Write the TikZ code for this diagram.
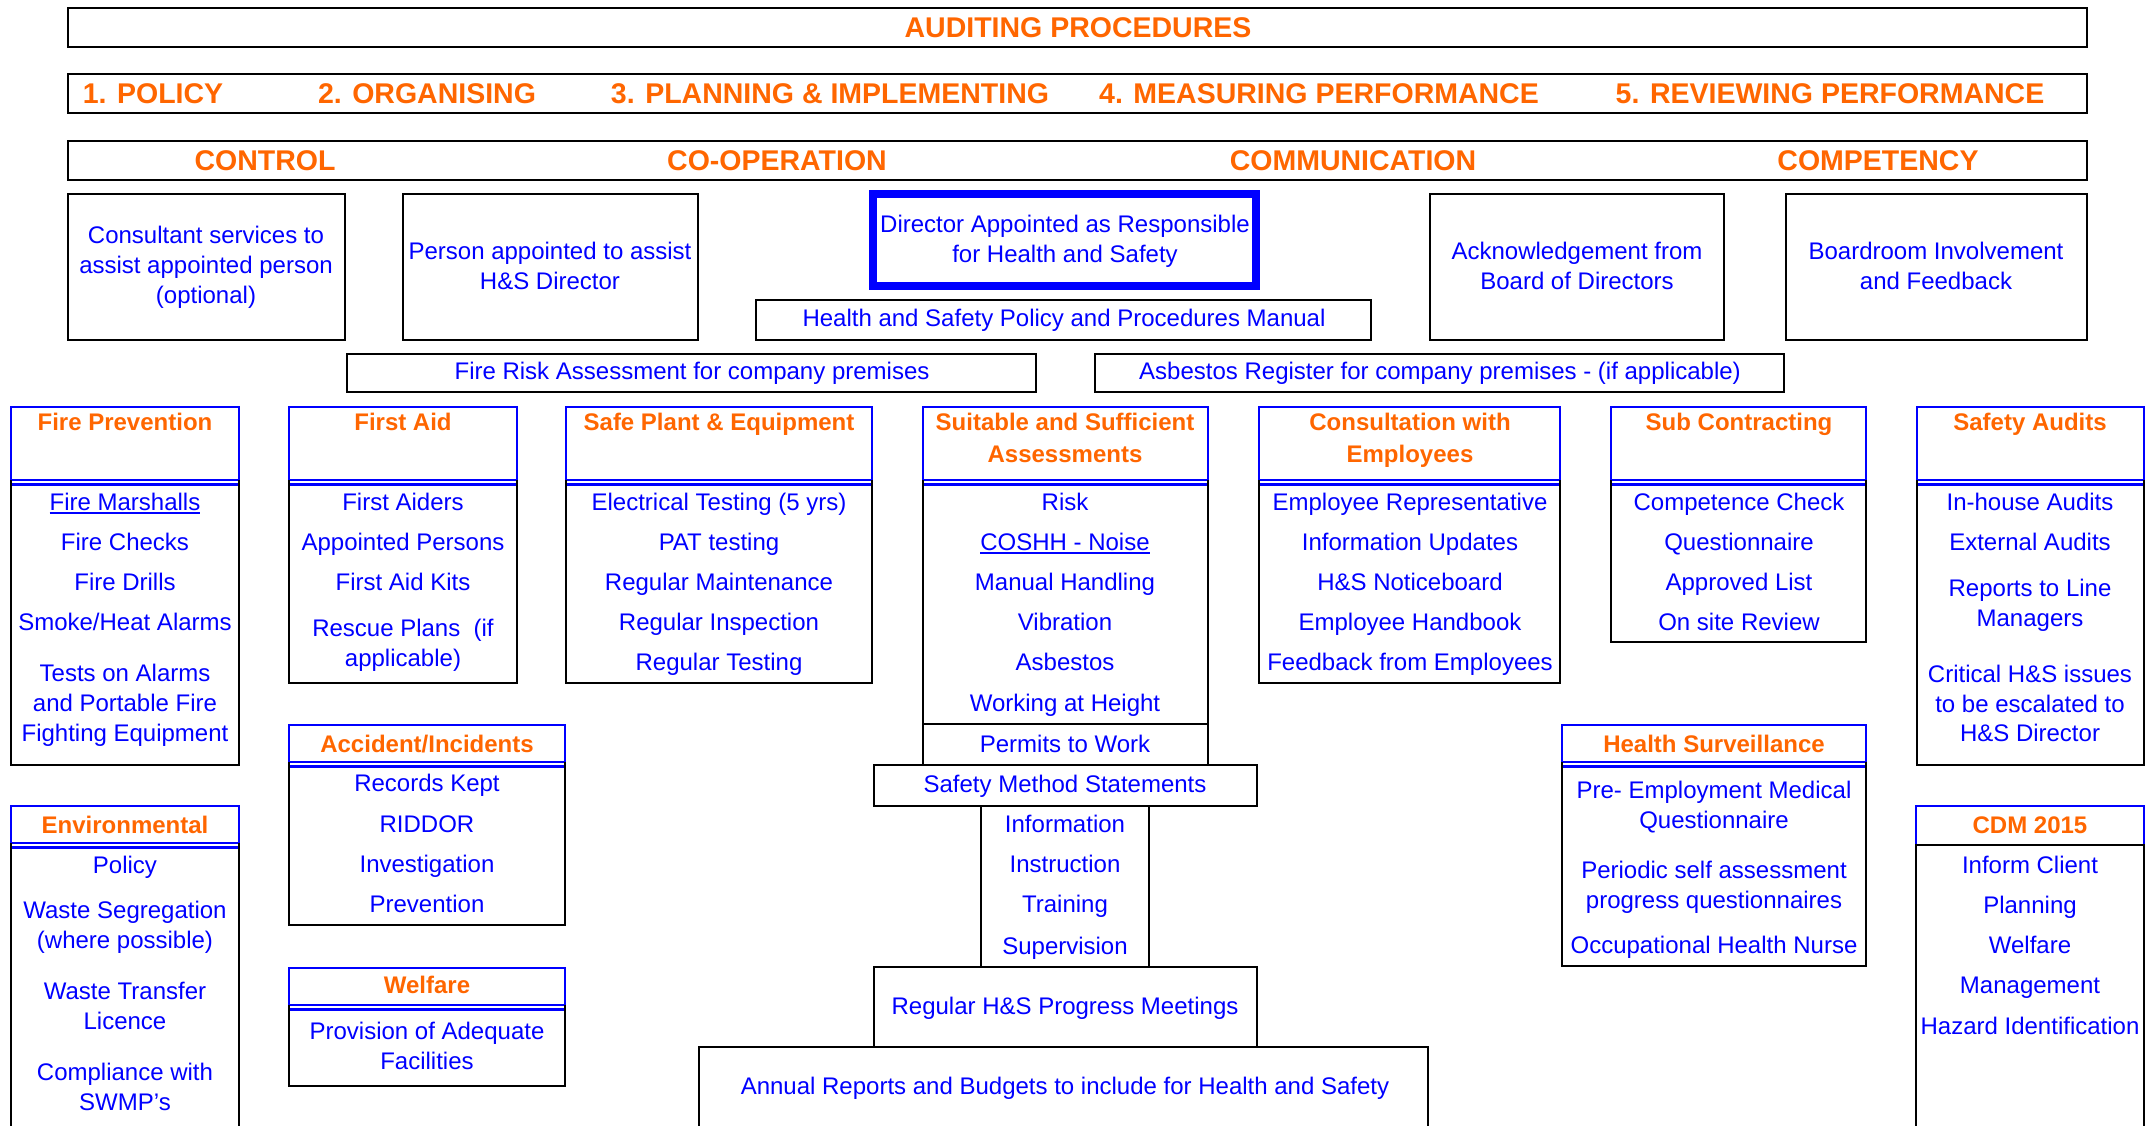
\documentclass[tikz,border=0pt]{standalone}
\usepackage{fontspec}
\setmainfont{Liberation Sans}
\definecolor{hblue}{RGB}{0,0,255}
\definecolor{horange}{RGB}{255,102,0}
\newcommand\myul[1]{\setbox0\hbox{#1}\rlap{\raisebox{-3.4pt}{\rule{\wd0}{1.9pt}}}\box0}
\tikzset{
  blk/.style={draw=black, line width=2.8pt},
  blu/.style={draw=hblue, line width=2.8pt},
  itm/.style={font=\fontsize{24}{28}\selectfont, text=hblue, anchor=base, inner sep=0pt, yshift=-8.6pt},
  hdr/.style={font=\bfseries\fontsize{24}{28}\selectfont, text=horange, anchor=base, inner sep=0pt, yshift=-8.6pt},
  big/.style={font=\bfseries\fontsize{28.5}{32}\selectfont, text=horange, anchor=base, inner sep=0pt, yshift=-10.2pt}
}
% x1, x2, top, separator, bottom
\newcommand\catbox[5]{%
  \draw[blu] (#1,#3) rectangle (#2,#4);
  \draw[blu] (#1,#4+4.5) -- (#2,#4+4.5);
  \draw[blk] (#1,#4) -- (#1,#5) -- (#2,#5) -- (#2,#4);
}
\begin{document}
\begin{tikzpicture}[x=1pt,y=-1pt,line join=miter]
\useasboundingbox (0,0) rectangle (2150,1126);
\fill[white] (0,0) rectangle (2150,1126);
\clip (0,0) rectangle (2150,1126);

% ---------- top banner rows ----------
\draw[blk] (68,8) rectangle (2087,47);
\draw[blk] (68,74) rectangle (2087,113);
\draw[blk] (68,141) rectangle (2087,180);
\node[big] (audit) at (1078,27) {AUDITING PROCEDURES};
\node[big] (p1) at (153,93) {1. POLICY};
\node[big] (p2) at (427,93) {2. ORGANISING};
\node[big] (p3) at (830,93) {3. PLANNING \& IMPLEMENTING};
\node[big] (p4) at (1319,93) {4. MEASURING PERFORMANCE};
\node[big] (p5) at (1830,93) {5. REVIEWING PERFORMANCE};
\node[big] (c1) at (265,160) {CONTROL};
\node[big] (c2) at (777,160) {CO-OPERATION};
\node[big] (c3) at (1353,160) {COMMUNICATION};
\node[big] (c4) at (1878,160) {COMPETENCY};

% ---------- management boxes ----------
\draw[blk] (68,194) rectangle (345,340);
\draw[blk] (403,194) rectangle (698,340);
\draw[draw=hblue, line width=7.3pt] (873,194) rectangle (1256,286);
\draw[blk] (756,300) rectangle (1371,340);
\draw[blk] (1430,194) rectangle (1724,340);
\draw[blk] (1786,194) rectangle (2087,340);
\draw[blk] (347,354) rectangle (1036,392);
\draw[blk] (1095,354) rectangle (1784,392);

\node[itm] (cs1) at (206,235) {Consultant services to};
\node[itm] (cs2) at (206,265) {assist appointed person};
\node[itm] (cs3) at (206,295) {(optional)};
\node[itm] (pa1) at (550,251) {Person appointed to assist};
\node[itm] (pa2) at (550,281) {H\&S Director};
\node[itm] (dr1) at (1065,224) {Director Appointed as Responsible};
\node[itm] (dr2) at (1065,254) {for Health and Safety};
\node[itm] (pm) at (1064,318) {Health and Safety Policy and Procedures Manual};
\node[itm] (ak1) at (1577,251) {Acknowledgement from};
\node[itm] (ak2) at (1577,281) {Board of Directors};
\node[itm] (bi1) at (1936,251) {Boardroom Involvement};
\node[itm] (bi2) at (1936,281) {and Feedback};
\node[itm] (fr) at (692,371) {Fire Risk Assessment for company premises};
\node[itm] (ar) at (1440,371) {Asbestos Register for company premises - (if applicable)};

% ---------- category boxes ----------
\catbox{11}{239}{407}{480}{765}
\catbox{289}{517}{407}{480}{683}
\catbox{566}{872}{407}{480}{683}
\catbox{923}{1208}{407}{480}{765}
\catbox{1259}{1560}{407}{480}{683}
\catbox{1611}{1866}{407}{480}{642}
\catbox{1917}{2144}{407}{480}{765}
\catbox{289}{565}{725}{762}{925}
\catbox{289}{565}{968}{1005}{1086}
\catbox{11}{239}{806}{843}{1140}
\catbox{1562}{1866}{725}{762}{966}
% CDM 2015
\draw[blu] (1916,845) -- (1916,806) -- (2144,806) -- (2144,845);
\draw[blk] (1916,1140) -- (1916,845) -- (2144,845) -- (2144,1140);

% assessment stack
\draw[blk] (923,724) -- (1208,724);
\draw[blk] (874,765) rectangle (1257,806);
\draw[blk] (981,806) -- (981,967);
\draw[blk] (1149,806) -- (1149,967);
\draw[blk] (874,967) rectangle (1257,1047);
\draw[blk] (699,1140) -- (699,1047) -- (1428,1047) -- (1428,1140);

% ---------- headers ----------
\node[hdr] (hfp) at (125,422) {Fire Prevention};
\node[hdr] (hfa) at (403,422) {First Aid};
\node[hdr] (hsp) at (719,422) {Safe Plant \& Equipment};
\node[hdr] (hss1) at (1065,422) {Suitable and Sufficient};
\node[hdr] (hss2) at (1065,454) {Assessments};
\node[hdr] (hce1) at (1410,422) {Consultation with};
\node[hdr] (hce2) at (1410,454) {Employees};
\node[hdr] (hsc) at (1739,422) {Sub Contracting};
\node[hdr] (hsa) at (2030,422) {Safety Audits};
\node[hdr] (hai) at (427,744) {Accident/Incidents};
\node[hdr] (hwf) at (427,985) {Welfare};
\node[hdr] (hen) at (125,825) {Environmental};
\node[hdr] (hhs) at (1714,744) {Health Surveillance};
\node[hdr] (hcdm) at (2030,825) {CDM 2015};

% ---------- items ----------
\foreach \yy/\tx [count=\i] in {502/{\myul{Fire Marshalls}}, 542/Fire Checks, 582/Fire Drills, 622/{Smoke/Heat Alarms}, 673/Tests on Alarms, 703/and Portable Fire, 733/Fighting Equipment}
  \node[itm] (fp\i) at (125,\yy) {\tx};
\foreach \yy/\tx [count=\i] in {502/First Aiders, 542/Appointed Persons, 582/First Aid Kits, 628/{Rescue Plans\ \ (if}, 658/{applicable)}}
  \node[itm] (fa\i) at (403,\yy) {\tx};
\foreach \yy/\tx [count=\i] in {502/{Electrical Testing (5 yrs)}, 542/PAT testing, 582/Regular Maintenance, 622/Regular Inspection, 662/Regular Testing}
  \node[itm] (sp\i) at (719,\yy) {\tx};
\foreach \yy/\tx [count=\i] in {502/Risk, 542/{\myul{COSHH - Noise}}, 582/Manual Handling, 622/Vibration, 662/Asbestos, 703/Working at Height, 744/Permits to Work, 784/Safety Method Statements, 824/Information, 864/Instruction, 904/Training, 946/Supervision, 1006/{Regular H\&S Progress Meetings}, 1086/{Annual Reports and Budgets to include for Health and Safety}}
  \node[itm] (ss\i) at (1065,\yy) {\tx};
\foreach \yy/\tx [count=\i] in {502/Employee Representative, 542/Information Updates, 582/{H\&S Noticeboard}, 622/Employee Handbook, 662/Feedback from Employees}
  \node[itm] (ce\i) at (1410,\yy) {\tx};
\foreach \yy/\tx [count=\i] in {502/Competence Check, 542/Questionnaire, 582/Approved List, 622/On site Review}
  \node[itm] (sc\i) at (1739,\yy) {\tx};
\foreach \yy/\tx [count=\i] in {502/In-house Audits, 542/External Audits, 588/Reports to Line, 618/Managers, 674/{Critical H\&S issues}, 704/to be escalated to, 733/{H\&S Director}}
  \node[itm] (sa\i) at (2030,\yy) {\tx};
\foreach \yy/\tx [count=\i] in {783/Records Kept, 824/RIDDOR, 864/Investigation, 904/Prevention}
  \node[itm] (ai\i) at (427,\yy) {\tx};
\foreach \yy/\tx [count=\i] in {1031/Provision of Adequate, 1061/Facilities}
  \node[itm] (wf\i) at (427,\yy) {\tx};
\foreach \yy/\tx [count=\i] in {865/Policy, 910/Waste Segregation, 940/{(where possible)}, 991/Waste Transfer, 1021/Licence, 1072/Compliance with, 1102/{SWMP's}}
  \node[itm] (en\i) at (125,\yy) {\tx};
\foreach \yy/\tx [count=\i] in {790/{Pre- Employment Medical}, 820/Questionnaire, 870/Periodic self assessment, 900/progress questionnaires, 945/Occupational Health Nurse}
  \node[itm] (hs\i) at (1714,\yy) {\tx};
\foreach \yy/\tx [count=\i] in {865/Inform Client, 905/Planning, 945/Welfare, 985/Management, 1026/Hazard Identification}
  \node[itm] (cdm\i) at (2030,\yy) {\tx};
\end{tikzpicture}
\end{document}
